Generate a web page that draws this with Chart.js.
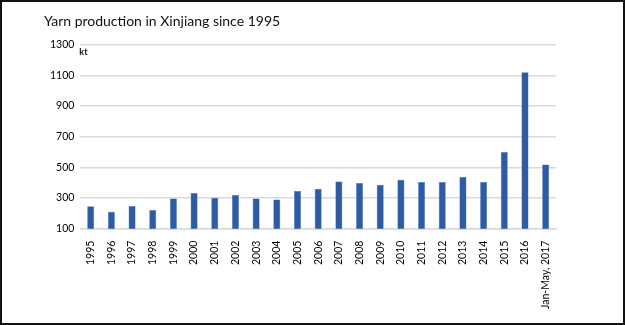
<!DOCTYPE html>
<html>
<head>
<meta charset="utf-8">
<script src="https://cdn.jsdelivr.net/npm/chart.js@4"></script>
<style>
  body { margin: 0; background: #fff; }
  #box { position: absolute; left: 0; top: 0; width: 625px; height: 325px; box-sizing: border-box; border: 2px solid #111; background: #fff; }
</style>
</head>
<body>
<div id="box"><canvas id="graficoHilo"></canvas></div>
<script>
// datos: produccion de hilo en Xinjiang (kt)
const years = ["1995", "1996", "1997", "1998", "1999", "2000", "2001", "2002", "2003", "2004", "2005", "2006",
  "2007", "2008", "2009", "2010", "2011", "2012", "2013", "2014", "2015", "2016", "Jan-May, 2017"];
const production = [247, 210, 248, 222, 297, 332, 302, 319, 297, 291, 345, 360,
  408, 398, 387, 419, 404, 404, 437, 404, 600, 1121, 519];
const yTicks = [100, 300, 500, 700, 900, 1100, 1300];

const font = "Lato, 'Open Sans', sans-serif";

// etiqueta "kt" arriba del eje
const ktLabel = {
  id: "ktLabel",
  afterDraw(chart) {
    const ctx = chart.ctx;
    ctx.save();
    ctx.font = "bold 9px " + font;
    ctx.fillStyle = "#111";
    ctx.textBaseline = "middle";
    ctx.fillText("kt", chart.chartArea.left - 1, 50);
    ctx.restore();
  }
};

new Chart(document.getElementById("graficoHilo"), {
  type: "bar",
  data: {
    labels: years,
    datasets: [{
      label: "Yarn production (kt)",
      data: production,
      backgroundColor: "#2D5BA5",
      borderColor: "#4a76bd",
      borderWidth: 0.5,
      categoryPercentage: 1,
      barPercentage: 0.34
    }]
  },
  options: {
    responsive: true,
    maintainAspectRatio: false,
    animation: false,
    layout: { padding: { left: 42, right: 67, top: 0, bottom: 10 } },
    plugins: {
      legend: { display: false },
      tooltip: { enabled: false },
      title: {
        display: true,
        text: "Yarn production in Xinjiang since 1995",
        align: "start",
        color: "#111",
        font: { family: font, size: 14, weight: "normal" },
        padding: { top: 11, bottom: 15 }
      }
    },
    scales: {
      x: {
        grid: { display: false },
        border: { color: "#d9d9d9", width: 1.5 },
        ticks: {
          minRotation: 90,
          maxRotation: 90,
          autoSkip: false,
          color: "#000",
          padding: 4,
          font: { family: font, size: 10.5 }
        }
      },
      y: {
        min: 100,
        max: 1300,
        afterBuildTicks: axis => { axis.ticks = yTicks.map(v => ({ value: v })); },
        grid: { color: "#d9d9d9", lineWidth: 1.5, drawTicks: false },
        border: { display: false },
        ticks: {
          color: "#000",
          padding: 6,
          font: { family: font, size: 10.5 },
          callback: v => String(v)
        }
      }
    }
  },
  plugins: [ktLabel]
});
</script>
</body>
</html>
